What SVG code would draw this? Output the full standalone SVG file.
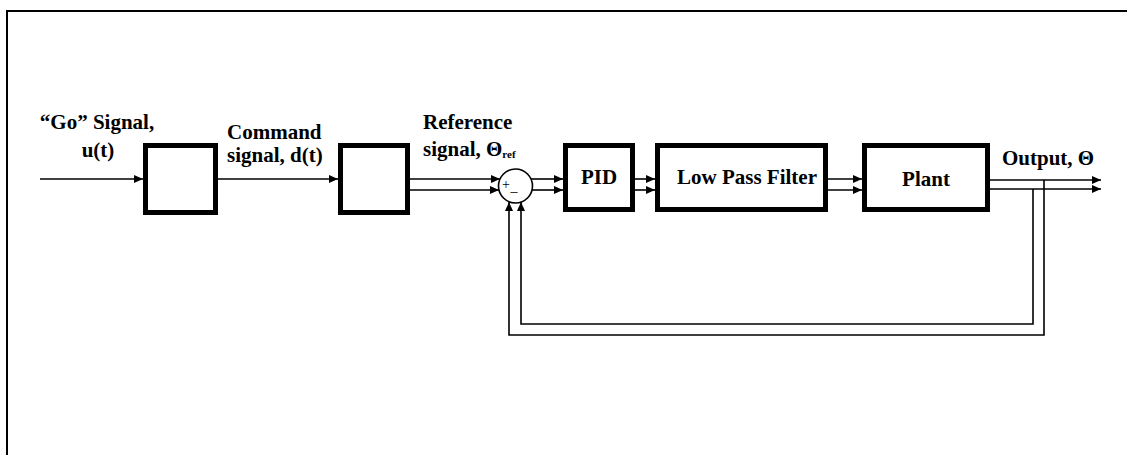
<svg xmlns="http://www.w3.org/2000/svg" width="1127" height="455" viewBox="0 0 1127 455">
<defs>
<style>
.frame{fill:none;stroke:#000;stroke-width:2}
.blk{fill:#fff;stroke:#000;stroke-width:5}
.sum{fill:#fff;stroke:#000;stroke-width:1.6}
.ln{fill:none;stroke:#000;stroke-width:1.6}
.t{font-family:"Liberation Serif","Times New Roman",serif;font-weight:bold;font-size:21px;fill:#000}
.s{font-family:"Liberation Serif","Times New Roman",serif;font-size:14px;fill:#000}
</style>
<marker id="ah" markerWidth="10" markerHeight="10" refX="9" refY="5" orient="auto" markerUnits="userSpaceOnUse"><path d="M0,1 L9,5 L0,9 Z" fill="#000"/></marker>
</defs>
<rect width="1127" height="455" fill="#fff"/>
<rect class="frame" x="7" y="11" width="1140" height="460"/>

<g id="connectors">
<path class="ln" d="M40,179 H143" marker-end="url(#ah)"/>
<path class="ln" d="M218,179 H338" marker-end="url(#ah)"/>
<path class="ln" d="M410,179 H500" marker-end="url(#ah)"/>
<path class="ln" d="M410,190 H499" marker-end="url(#ah)"/>
<path class="ln" d="M531,179 H563" marker-end="url(#ah)"/>
<path class="ln" d="M532,190 H563" marker-end="url(#ah)"/>
<path class="ln" d="M635,179 H655" marker-end="url(#ah)"/>
<path class="ln" d="M635,190 H655" marker-end="url(#ah)"/>
<path class="ln" d="M828,179 H862" marker-end="url(#ah)"/>
<path class="ln" d="M828,190 H862" marker-end="url(#ah)"/>
<path class="ln" d="M990,180 H1101" marker-end="url(#ah)"/>
<path class="ln" d="M990,189 H1101" marker-end="url(#ah)"/>
<path class="ln" d="M1044,180 V335 H509 V202" marker-end="url(#ah)"/>
<path class="ln" d="M1033,189 V324 H521 V202" marker-end="url(#ah)"/>
</g>

<g id="box1"><rect class="blk" x="145.5" y="145.5" width="70" height="67"/></g>
<g id="box2"><rect class="blk" x="340.5" y="145.5" width="67" height="67"/></g>
<g id="sum">
<circle class="sum" cx="515.5" cy="186" r="17"/>
<text class="s" x="506" y="189" text-anchor="middle">+</text>
<text class="s" x="514" y="191" text-anchor="middle">_</text>
</g>
<g id="pid"><rect class="blk" x="565.5" y="145.5" width="67" height="64"/><text class="t" x="599" y="184" text-anchor="middle">PID</text></g>
<g id="lpf"><rect class="blk" x="657.5" y="145.5" width="168" height="64"/><text class="t" x="747" y="184" text-anchor="middle">Low Pass Filter</text></g>
<g id="plant"><rect class="blk" x="864.5" y="145.5" width="123" height="64"/><text class="t" x="926" y="186" text-anchor="middle">Plant</text></g>

<g id="labels">
<text class="t" x="97" y="129" text-anchor="middle">“Go” Signal,</text>
<text class="t" x="98" y="157" text-anchor="middle">u(t)</text>
<text class="t" x="227" y="139">Command</text>
<text class="t" x="227" y="162">signal, d(t)</text>
<text class="t" x="423" y="129">Reference</text>
<text class="t" x="423" y="156">signal, Θ<tspan font-size="11" dy="2">ref</tspan></text>
<text class="t" x="1002" y="165">Output, Θ</text>
</g>
</svg>
